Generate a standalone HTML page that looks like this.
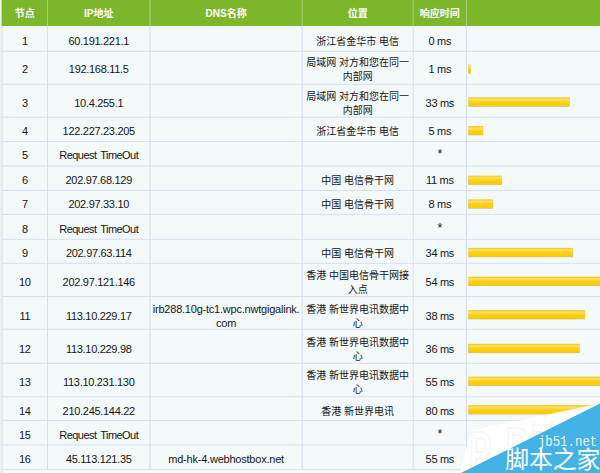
<!DOCTYPE html>
<html><head><meta charset="utf-8"><title>trace</title>
<style>
html,body{margin:0;padding:0;}
body{width:600px;height:473px;overflow:hidden;background:#f4f9fa;font-family:"Liberation Sans","Noto Sans CJK SC",sans-serif;}
#p{position:relative;width:600px;height:473px;overflow:hidden;background:#f4f9fa;}
#p>div,#p>svg.wm{position:absolute;}
.lm{background:#eef1ee;}
.hd{background:#7cb72b;}
.hdl{background:#8fc04c;}
.hvb{width:1px;background:#a9cf7c;}
.vb{width:1px;background:#d6ddef;}
.hb{left:2px;width:598px;height:1px;background:#d6ddef;}
.t{text-align:center;font-size:11.0px;line-height:14.0px;height:14.0px;color:#151515;white-space:nowrap;letter-spacing:-0.3px;}
.d{letter-spacing:-0.22px;}
.rq{letter-spacing:-0.56px;word-spacing:1.6px;}
.ht{text-align:center;font-size:10px;line-height:16px;height:16px;color:#fff;font-weight:bold;white-space:nowrap;}
.cj{font-size:10px;letter-spacing:0;font-family:"Liberation Sans","Noto Sans CJK SC",sans-serif;}
.bar{height:8.8px;background:linear-gradient(#fbcb20 0,#fbcb20 9%,#fde172 22%,#fdd63a 42%,#fdcf05 58%,#fcca00 100%);box-shadow:0 0.6px 0.6px rgba(120,105,70,.55);}
.jb{left:537.8px;top:435.5px;width:64px;font-family:"Liberation Mono",monospace;font-size:12.4px;line-height:16px;color:#eaf6fc;transform-origin:0 100%;transform:scaleY(1.17);white-space:nowrap;}
.jbj{left:505.2px;top:448.6px;width:96px;height:23px;font-family:"Liberation Sans","Noto Sans CJK SC",sans-serif;font-size:23.8px;line-height:22.8px;color:#fff;white-space:nowrap;letter-spacing:0;}
</style></head>
<body><div id="p">
<svg class="wm" width="600" height="473" viewBox="0 0 600 473"><defs><linearGradient id="bg" x1="0" y1="0" x2="0" y2="1"><stop offset="0" stop-color="#fbcb20"/><stop offset=".09" stop-color="#fbcb20"/><stop offset=".22" stop-color="#fde172"/><stop offset=".42" stop-color="#fdd63a"/><stop offset=".58" stop-color="#fdcf05"/><stop offset="1" stop-color="#fcca00"/></linearGradient></defs>
<rect x="0" y="0" width="600" height="473" fill="#f4f9fa"/><rect x="0" y="0" width="1.6" height="473" fill="#eef1ee"/><rect x="1.6" y="0" width="600" height="26" fill="#7cb72b"/><rect x="47" y="0" width="1" height="26" fill="#a9cf7c"/><rect x="149.5" y="0" width="1" height="26" fill="#a9cf7c"/><rect x="301.7" y="0" width="1" height="26" fill="#a9cf7c"/><rect x="412.7" y="0" width="1" height="26" fill="#a9cf7c"/><rect x="466" y="0" width="1" height="26" fill="#a9cf7c"/><rect x="1.6" y="26" width="1" height="444.2" fill="#d6deef"/><rect x="47" y="26" width="1" height="444.2" fill="#d6deef"/><rect x="149.5" y="26" width="1" height="444.2" fill="#d6deef"/><rect x="301.7" y="26" width="1" height="444.2" fill="#d6deef"/><rect x="412.7" y="26" width="1" height="444.2" fill="#d6deef"/><rect x="466" y="26" width="1" height="444.2" fill="#d6deef"/><rect x="1.6" y="470.2" width="600" height="5" fill="#f9fbfd"/><rect x="1.6" y="469.2" width="1" height="5" fill="#d6deef"/><rect x="1.6" y="50.8" width="600" height="1" fill="#d6deef"/><rect x="1.6" y="83.8" width="600" height="1" fill="#d6deef"/><rect x="1.6" y="116.7" width="600" height="1" fill="#d6deef"/><rect x="1.6" y="141.0" width="600" height="1" fill="#d6deef"/><rect x="1.6" y="165.5" width="600" height="1" fill="#d6deef"/><rect x="1.6" y="190.0" width="600" height="1" fill="#d6deef"/><rect x="1.6" y="213.9" width="600" height="1" fill="#d6deef"/><rect x="1.6" y="238.8" width="600" height="1" fill="#d6deef"/><rect x="1.6" y="262.8" width="600" height="1" fill="#d6deef"/><rect x="1.6" y="296.0" width="600" height="1" fill="#d6deef"/><rect x="1.6" y="328.7" width="600" height="1" fill="#d6deef"/><rect x="1.6" y="362.8" width="600" height="1" fill="#d6deef"/><rect x="1.6" y="396.3" width="600" height="1" fill="#d6deef"/><rect x="1.6" y="419.9" width="600" height="1" fill="#d6deef"/><rect x="1.6" y="444.5" width="600" height="1" fill="#d6deef"/><rect x="1.6" y="469.2" width="600" height="1" fill="#d6deef"/><rect x="468.4" y="65.1" width="2.3" height="8.8" fill="#8a7a50" opacity=".45"/><rect x="468.4" y="64.6" width="2.3" height="8.8" fill="url(#bg)"/><rect x="468.4" y="97.9" width="101.3" height="8.8" fill="#8a7a50" opacity=".45"/><rect x="468.4" y="97.4" width="101.3" height="8.8" fill="url(#bg)"/><rect x="468.4" y="126.6" width="14.7" height="8.8" fill="#8a7a50" opacity=".45"/><rect x="468.4" y="126.1" width="14.7" height="8.8" fill="url(#bg)"/><rect x="468.4" y="176.1" width="33.6" height="8.8" fill="#8a7a50" opacity=".45"/><rect x="468.4" y="175.6" width="33.6" height="8.8" fill="url(#bg)"/><rect x="468.4" y="199.9" width="24.4" height="8.8" fill="#8a7a50" opacity=".45"/><rect x="468.4" y="199.4" width="24.4" height="8.8" fill="url(#bg)"/><rect x="468.4" y="248.4" width="104.4" height="8.8" fill="#8a7a50" opacity=".45"/><rect x="468.4" y="247.9" width="104.4" height="8.8" fill="url(#bg)"/><rect x="468.4" y="277.2" width="131.6" height="8.8" fill="#8a7a50" opacity=".45"/><rect x="468.4" y="276.7" width="131.6" height="8.8" fill="url(#bg)"/><rect x="468.4" y="310.6" width="116.6" height="8.8" fill="#8a7a50" opacity=".45"/><rect x="468.4" y="310.1" width="116.6" height="8.8" fill="url(#bg)"/><rect x="468.4" y="344.3" width="111.1" height="8.8" fill="#8a7a50" opacity=".45"/><rect x="468.4" y="343.8" width="111.1" height="8.8" fill="url(#bg)"/><rect x="468.4" y="377.1" width="131.6" height="8.8" fill="#8a7a50" opacity=".45"/><rect x="468.4" y="376.6" width="131.6" height="8.8" fill="url(#bg)"/><rect x="468.4" y="405.7" width="131.6" height="8.8" fill="#8a7a50" opacity=".45"/><rect x="468.4" y="405.2" width="131.6" height="8.8" fill="url(#bg)"/><rect x="468.4" y="454.8" width="131.6" height="8.8" fill="#8a7a50" opacity=".45"/><rect x="468.4" y="454.3" width="131.6" height="8.8" fill="url(#bg)"/><polygon points="459.5,473 471.3,430.3 600,403.6 600,473" fill="#ffffff"/><clipPath id="wc"><polygon points="459.5,473 471.3,430.3 600,403.6 600,473"/></clipPath><g clip-path="url(#wc)" font-family="Liberation Sans, sans-serif" font-weight="bold" font-size="60" fill="#fff" stroke="#edf2f7" stroke-width="1"><text transform="translate(469.3,473) scale(.55,1)" vector-effect="non-scaling-stroke">P</text><text transform="translate(506,469) scale(.55,1)" vector-effect="non-scaling-stroke">P</text><text transform="translate(532,465.5) scale(.55,1)" vector-effect="non-scaling-stroke">T</text></g><polygon points="460.5,473.2 600,403.4 600,473.2" fill="#43b2e5"/></svg>

<div class="ht" style="left:2.6px;width:44.4px;top:5.54px">节点</div>
<div class="ht" style="left:48px;width:101.5px;top:5.54px">IP地址</div>
<div class="ht" style="left:150.5px;width:151.2px;top:5.54px">DNS名称</div>
<div class="ht" style="left:302.7px;width:110.0px;top:5.54px">位置</div>
<div class="ht" style="left:413.7px;width:52.30000000000001px;top:5.54px">响应时间</div>
<div class="t" style="left:2.6px;width:44.4px;top:34.19px">1</div>
<div class="t" style="left:48px;width:101.5px;top:34.19px">60.191.221.1</div>
<div class="t" style="left:302.7px;width:110.0px;top:34.19px"><span class="cj">浙江省金华市</span> <span class="cj">电信</span></div>
<div class="t" style="left:413.7px;width:52.30000000000001px;top:34.19px">0 ms</div>
<div class="t" style="left:2.6px;width:44.4px;top:62.19px">2</div>
<div class="t" style="left:48px;width:101.5px;top:62.19px">192.168.11.5</div>
<div class="t" style="left:302.7px;width:110.0px;top:55.19px"><span class="cj">局域网</span> <span class="cj">对方和您在同一</span></div>
<div class="t" style="left:302.7px;width:110.0px;top:69.19px"><span class="cj">内部网</span></div>
<div class="t" style="left:413.7px;width:52.30000000000001px;top:62.19px">1 ms</div>
<div class="t" style="left:2.6px;width:44.4px;top:96.19px">3</div>
<div class="t" style="left:48px;width:101.5px;top:96.19px">10.4.255.1</div>
<div class="t" style="left:302.7px;width:110.0px;top:89.19px"><span class="cj">局域网</span> <span class="cj">对方和您在同一</span></div>
<div class="t" style="left:302.7px;width:110.0px;top:103.19px"><span class="cj">内部网</span></div>
<div class="t" style="left:413.7px;width:52.30000000000001px;top:96.19px">33 ms</div>
<div class="t" style="left:2.6px;width:44.4px;top:124.19px">4</div>
<div class="t" style="left:48px;width:101.5px;top:124.19px">122.227.23.205</div>
<div class="t" style="left:302.7px;width:110.0px;top:124.19px"><span class="cj">浙江省金华市</span> <span class="cj">电信</span></div>
<div class="t" style="left:413.7px;width:52.30000000000001px;top:124.19px">5 ms</div>
<div class="t" style="left:2.6px;width:44.4px;top:148.19px">5</div>
<div class="t rq" style="left:48px;width:101.5px;top:148.19px">Request TimeOut</div>
<div class="t" style="left:413.7px;width:52.30000000000001px;top:147.19px;font-size:12.5px">*</div>
<div class="t" style="left:2.6px;width:44.4px;top:173.19px">6</div>
<div class="t" style="left:48px;width:101.5px;top:173.19px">202.97.68.129</div>
<div class="t" style="left:302.7px;width:110.0px;top:173.19px"><span class="cj">中国</span> <span class="cj">电信骨干网</span></div>
<div class="t" style="left:413.7px;width:52.30000000000001px;top:173.19px">11 ms</div>
<div class="t" style="left:2.6px;width:44.4px;top:197.19px">7</div>
<div class="t" style="left:48px;width:101.5px;top:197.19px">202.97.33.10</div>
<div class="t" style="left:302.7px;width:110.0px;top:197.19px"><span class="cj">中国</span> <span class="cj">电信骨干网</span></div>
<div class="t" style="left:413.7px;width:52.30000000000001px;top:197.19px">8 ms</div>
<div class="t" style="left:2.6px;width:44.4px;top:222.19px">8</div>
<div class="t rq" style="left:48px;width:101.5px;top:222.19px">Request TimeOut</div>
<div class="t" style="left:413.7px;width:52.30000000000001px;top:221.19px;font-size:12.5px">*</div>
<div class="t" style="left:2.6px;width:44.4px;top:246.19px">9</div>
<div class="t" style="left:48px;width:101.5px;top:246.19px">202.97.63.114</div>
<div class="t" style="left:302.7px;width:110.0px;top:246.19px"><span class="cj">中国</span> <span class="cj">电信骨干网</span></div>
<div class="t" style="left:413.7px;width:52.30000000000001px;top:246.19px">34 ms</div>
<div class="t" style="left:2.6px;width:44.4px;top:275.19px">10</div>
<div class="t" style="left:48px;width:101.5px;top:275.19px">202.97.121.146</div>
<div class="t" style="left:302.7px;width:110.0px;top:268.19px"><span class="cj">香港</span> <span class="cj">中国电信骨干网接</span></div>
<div class="t" style="left:302.7px;width:110.0px;top:282.19px"><span class="cj">入点</span></div>
<div class="t" style="left:413.7px;width:52.30000000000001px;top:275.19px">54 ms</div>
<div class="t" style="left:2.6px;width:44.4px;top:309.19px">11</div>
<div class="t" style="left:48px;width:101.5px;top:309.19px">113.10.229.17</div>
<div class="t d" style="left:150.5px;width:151.2px;top:302.19px">irb288.10g-tc1.wpc.nwtgigalink.</div>
<div class="t d" style="left:150.5px;width:151.2px;top:316.19px">com</div>
<div class="t" style="left:302.7px;width:110.0px;top:302.19px"><span class="cj">香港</span> <span class="cj">新世界电讯数据中</span></div>
<div class="t" style="left:302.7px;width:110.0px;top:316.19px"><span class="cj">心</span></div>
<div class="t" style="left:413.7px;width:52.30000000000001px;top:309.19px">38 ms</div>
<div class="t" style="left:2.6px;width:44.4px;top:342.19px">12</div>
<div class="t" style="left:48px;width:101.5px;top:342.19px">113.10.229.98</div>
<div class="t" style="left:302.7px;width:110.0px;top:335.19px"><span class="cj">香港</span> <span class="cj">新世界电讯数据中</span></div>
<div class="t" style="left:302.7px;width:110.0px;top:349.19px"><span class="cj">心</span></div>
<div class="t" style="left:413.7px;width:52.30000000000001px;top:342.19px">36 ms</div>
<div class="t" style="left:2.6px;width:44.4px;top:375.19px">13</div>
<div class="t" style="left:48px;width:101.5px;top:375.19px">113.10.231.130</div>
<div class="t" style="left:302.7px;width:110.0px;top:368.19px"><span class="cj">香港</span> <span class="cj">新世界电讯数据中</span></div>
<div class="t" style="left:302.7px;width:110.0px;top:382.19px"><span class="cj">心</span></div>
<div class="t" style="left:413.7px;width:52.30000000000001px;top:375.19px">55 ms</div>
<div class="t" style="left:2.6px;width:44.4px;top:404.19px">14</div>
<div class="t" style="left:48px;width:101.5px;top:404.19px">210.245.144.22</div>
<div class="t" style="left:302.7px;width:110.0px;top:404.19px"><span class="cj">香港</span> <span class="cj">新世界电讯</span></div>
<div class="t" style="left:413.7px;width:52.30000000000001px;top:404.19px">80 ms</div>
<div class="t" style="left:2.6px;width:44.4px;top:428.19px">15</div>
<div class="t rq" style="left:48px;width:101.5px;top:428.19px">Request TimeOut</div>
<div class="t" style="left:413.7px;width:52.30000000000001px;top:427.19px;font-size:12.5px">*</div>
<div class="t" style="left:2.6px;width:44.4px;top:452.19px">16</div>
<div class="t" style="left:48px;width:101.5px;top:452.19px">45.113.121.35</div>
<div class="t d" style="left:150.5px;width:151.2px;top:452.19px">md-hk-4.webhostbox.net</div>
<div class="t" style="left:413.7px;width:52.30000000000001px;top:452.19px">55 ms</div>
<div class="jb">jb51.net</div>
<div class="jbj">脚本之家</div>
</div></body></html>
